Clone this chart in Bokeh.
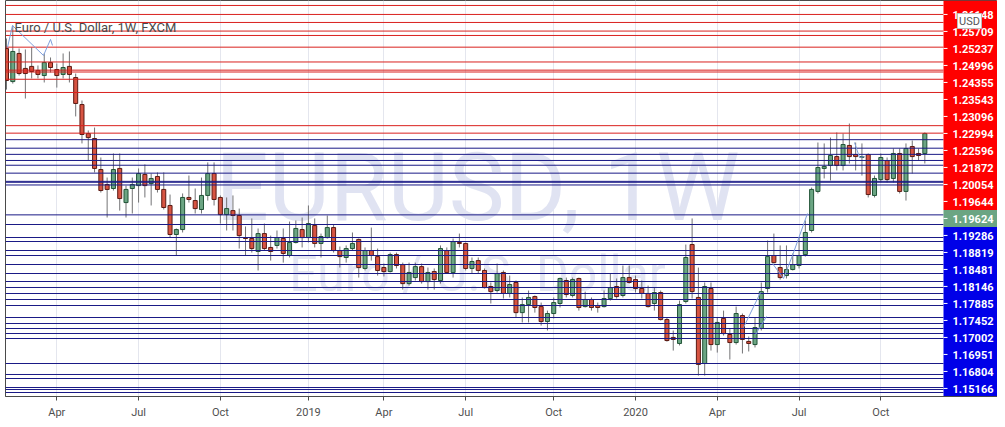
from bokeh.plotting import figure
from bokeh.models import Range1d, FixedTicker
from bokeh.core.properties import value
from bokeh.embed import file_html
from bokeh.resources import INLINE

# ---------------- data (EUR/USD weekly, FXCM, first bar = week of 2018-02-05) ----------------
opens = [1.2428, 1.2247, 1.2401, 1.2319, 1.2330, 1.2308, 1.2280, 1.2351, 1.2313, 1.2286,
         1.2330, 1.2269, 1.2121, 1.1962, 1.1935, 1.1765, 1.1683, 1.1661, 1.1771, 1.1584,
         1.1661, 1.1677, 1.1738, 1.1688, 1.1727, 1.1656, 1.1568, 1.1409, 1.1436, 1.1612,
         1.1595, 1.1546, 1.1623, 1.1743, 1.1612, 1.1518, 1.1540, 1.1513, 1.1392, 1.1387,
         1.1316, 1.1414, 1.1338, 1.1349, 1.1387, 1.1294, 1.1365, 1.1436, 1.1392, 1.1458,
         1.1360, 1.1392, 1.1447, 1.1321, 1.1283, 1.1332, 1.1382, 1.1223, 1.1321, 1.1288,
         1.1228, 1.1206, 1.1299, 1.1244, 1.1140, 1.1173, 1.1233, 1.1151, 1.1206, 1.1157,
         1.1321, 1.1201, 1.1365, 1.1360, 1.1223, 1.1266, 1.1212, 1.1124, 1.1102, 1.1201,
         1.1086, 1.1146, 1.0981, 1.1025, 1.1069, 1.1014, 1.0932, 1.0976, 1.1031, 1.1157,
         1.1075, 1.1168, 1.1014, 1.1053, 1.1020, 1.1014, 1.1058, 1.1124, 1.1075, 1.1173,
         1.1162, 1.1113, 1.1086, 1.1031, 1.1091, 1.0943, 1.0845, 1.0812, 1.1042, 1.1354,
         1.1064, 1.0702, 1.1113, 1.0806, 1.0949, 1.0861, 1.0817, 1.0965, 1.0823, 1.0806,
         1.0894, 1.1113, 1.1294, 1.1228, 1.1184, 1.1217, 1.1239, 1.1299, 1.1431, 1.1645,
         1.1771, 1.1787, 1.1836, 1.1787, 1.1897, 1.1847, 1.1831, 1.1847, 1.1623, 1.1710,
         1.1814, 1.1716, 1.1853, 1.1645, 1.1891, 1.1853, 1.1853]
highs = [1.2483, 1.2554, 1.2428, 1.2423, 1.2434, 1.2335, 1.2401, 1.2379, 1.2346, 1.2401,
         1.2412, 1.2291, 1.2143, 1.1979, 1.1995, 1.1831, 1.1721, 1.1853, 1.1853, 1.1677,
         1.1721, 1.1771, 1.1793, 1.1743, 1.1749, 1.1749, 1.1628, 1.1442, 1.1634, 1.1732,
         1.1661, 1.1721, 1.1804, 1.1804, 1.1623, 1.1612, 1.1623, 1.1551, 1.1453, 1.1497,
         1.1442, 1.1469, 1.1403, 1.1431, 1.1442, 1.1480, 1.1486, 1.1502, 1.1568, 1.1497,
         1.1414, 1.1513, 1.1464, 1.1343, 1.1349, 1.1420, 1.1387, 1.1338, 1.1447, 1.1332,
         1.1250, 1.1310, 1.1310, 1.1255, 1.1255, 1.1255, 1.1250, 1.1228, 1.1223, 1.1349,
         1.1338, 1.1387, 1.1414, 1.1365, 1.1283, 1.1283, 1.1223, 1.1146, 1.1250, 1.1212,
         1.1184, 1.1157, 1.1064, 1.1102, 1.1075, 1.1036, 1.0992, 1.1064, 1.1173, 1.1173,
         1.1173, 1.1173, 1.1096, 1.1064, 1.1036, 1.1102, 1.1195, 1.1168, 1.1239, 1.1239,
         1.1184, 1.1157, 1.1129, 1.1118, 1.1102, 1.0954, 1.0883, 1.1047, 1.1354, 1.1497,
         1.1228, 1.1146, 1.1146, 1.0954, 1.0992, 1.0894, 1.1014, 1.0976, 1.0850, 1.0954,
         1.1146, 1.1376, 1.1414, 1.1349, 1.1349, 1.1305, 1.1392, 1.1486, 1.1666, 1.1913,
         1.1908, 1.1940, 1.1968, 1.1962, 1.2017, 1.1913, 1.1908, 1.1853, 1.1732, 1.1853,
         1.1831, 1.1880, 1.1880, 1.1908, 1.1924, 1.1880, 1.1968]
lows = [1.2203, 1.2236, 1.2280, 1.2154, 1.2264, 1.2264, 1.2242, 1.2297, 1.2214, 1.2264,
        1.2242, 1.2056, 1.1908, 1.1814, 1.1749, 1.1639, 1.1502, 1.1650, 1.1540, 1.1502,
        1.1524, 1.1584, 1.1612, 1.1568, 1.1639, 1.1546, 1.1392, 1.1294, 1.1420, 1.1584,
        1.1524, 1.1524, 1.1595, 1.1568, 1.1469, 1.1431, 1.1431, 1.1332, 1.1294, 1.1310,
        1.1212, 1.1321, 1.1266, 1.1332, 1.1255, 1.1283, 1.1360, 1.1338, 1.1365, 1.1338,
        1.1283, 1.1387, 1.1310, 1.1228, 1.1255, 1.1321, 1.1173, 1.1212, 1.1266, 1.1184,
        1.1179, 1.1201, 1.1223, 1.1107, 1.1129, 1.1157, 1.1140, 1.1107, 1.1107, 1.1140,
        1.1195, 1.1173, 1.1338, 1.1212, 1.1195, 1.1195, 1.1113, 1.1031, 1.1091, 1.1058,
        1.1064, 1.0954, 1.0927, 1.0927, 1.0981, 1.0910, 1.0883, 1.0949, 1.1009, 1.1064,
        1.1064, 1.0992, 1.1009, 1.0992, 1.0981, 1.1009, 1.1047, 1.1058, 1.1064, 1.1140,
        1.1091, 1.1058, 1.1009, 1.0992, 1.0938, 1.0822, 1.0773, 1.0801, 1.1031, 1.1058,
        1.0636, 1.0636, 1.0773, 1.0762, 1.0855, 1.0724, 1.0806, 1.0757, 1.0768, 1.0790,
        1.0883, 1.1091, 1.1250, 1.1162, 1.1168, 1.1212, 1.1223, 1.1288, 1.1420, 1.1634,
        1.1716, 1.1705, 1.1760, 1.1760, 1.1798, 1.1760, 1.1732, 1.1612, 1.1612, 1.1694,
        1.1694, 1.1694, 1.1634, 1.1595, 1.1743, 1.1814, 1.1798]
closes = [1.2253, 1.2412, 1.2291, 1.2291, 1.2302, 1.2286, 1.2351, 1.2324, 1.2280, 1.2324,
          1.2286, 1.2127, 1.1957, 1.1940, 1.1771, 1.1650, 1.1656, 1.1765, 1.1606, 1.1656,
          1.1683, 1.1743, 1.1677, 1.1716, 1.1656, 1.1557, 1.1409, 1.1436, 1.1612, 1.1601,
          1.1551, 1.1623, 1.1743, 1.1601, 1.1518, 1.1551, 1.1513, 1.1403, 1.1387, 1.1332,
          1.1414, 1.1332, 1.1316, 1.1392, 1.1305, 1.1365, 1.1442, 1.1392, 1.1469, 1.1360,
          1.1398, 1.1447, 1.1321, 1.1288, 1.1332, 1.1360, 1.1228, 1.1321, 1.1294, 1.1212,
          1.1206, 1.1299, 1.1239, 1.1140, 1.1201, 1.1233, 1.1151, 1.1201, 1.1162, 1.1332,
          1.1201, 1.1370, 1.1360, 1.1223, 1.1261, 1.1212, 1.1118, 1.1096, 1.1195, 1.1086,
          1.1135, 1.0981, 1.1025, 1.1064, 1.1009, 1.0932, 1.0976, 1.1036, 1.1168, 1.1080,
          1.1162, 1.1009, 1.1053, 1.1009, 1.1009, 1.1058, 1.1118, 1.1069, 1.1173, 1.1146,
          1.1113, 1.1086, 1.1014, 1.1091, 1.0943, 1.0828, 1.0834, 1.1025, 1.1283, 1.1096,
          1.0697, 1.1124, 1.0806, 1.0927, 1.0866, 1.0817, 1.0976, 1.0834, 1.0812, 1.0899,
          1.1096, 1.1288, 1.1255, 1.1173, 1.1217, 1.1244, 1.1294, 1.1420, 1.1656, 1.1776,
          1.1782, 1.1842, 1.1787, 1.1902, 1.1836, 1.1836, 1.1836, 1.1628, 1.1716, 1.1831,
          1.1710, 1.1853, 1.1645, 1.1880, 1.1836, 1.1842, 1.1962]

current_price = 1.19624
current_label = "1.19624"

# horizontal price levels that carry a price label on the scale
labelled_levels = [1.26148, 1.25709, 1.25237, 1.24996, 1.24355, 1.23543, 1.23096, 1.22994,
                   1.22596, 1.21872, 1.20054, 1.19644, 1.19286, 1.18819, 1.18481, 1.18146,
                   1.17885, 1.17452, 1.17002, 1.16951, 1.16804, 1.15166]
level_texts = ["1.26148", "1.25709", "1.25237", "1.24996", "1.24355", "1.23543", "1.23096",
               "1.22994", "1.22596", "1.21872", "1.20054", "1.19644", "1.19286", "1.18819",
               "1.18481", "1.18146", "1.17885", "1.17452", "1.17002", "1.16951", "1.16804",
               "1.15166"]
# further horizontal levels whose labels are pushed off the scale
unlabelled_levels = [1.26640, 1.14638, 1.13925, 1.13706, 1.13213, 1.12939, 1.12446, 1.11953,
                     1.11514, 1.11186, 1.10857, 1.10528, 1.10199, 1.09542, 1.09213, 1.08939,
                     1.08665, 1.08391, 1.07021, 1.06419, 1.06199, 1.05706, 1.05597, 1.05432]

tick_bars = [8, 21, 34, 48, 60, 73, 87, 100, 113, 126, 139]
tick_labels = ["Apr", "Jul", "Oct", "2019", "Apr", "Jul", "Oct", "2020", "Apr", "Jul", "Oct"]

# trend-line drawings (bar index, price)
drawings_x = [[0.16, 0.95, 5.88, 7.00, 7.31],
              [117.17, 119.87],
              [119.08, 120.83],
              [121.78, 123.53, 124.96, 127.34],
              [134.82, 135.61, 136.41]]
drawings_y = [[1.2434, 1.2554, 1.2390, 1.2478, 1.2445],
              [1.0899, 1.1091],
              [1.0861, 1.0960],
              [1.1250, 1.1168, 1.1294, 1.1524],
              [1.1913, 1.1831, 1.1836]]

title_text = "Euro / U.S. Dollar, 1W, FXCM"
watermark_1 = "EURUSD, 1W"
watermark_2 = "Euro / U.S. Dollar"

# ---------------- layout (page pixels) ----------------
W, H = 997, 423
FRAME_L = 5
FRAME_H = 396
CHART_W = 938           # candle area width, price scale to its right
PX_PER_BAR = 6.29
X_LEFT = (FRAME_L - 6) / PX_PER_BAR
Y_TOP = 1.26912
PX_PER_PRICE = 1825.0
Y_BOT = Y_TOP - FRAME_H / PX_PER_PRICE
X_RIGHT = X_LEFT + (W - FRAME_L) / PX_PER_BAR
X_CHART = X_LEFT + CHART_W / PX_PER_BAR


def X(px):
    return X_LEFT + (px - FRAME_L) / PX_PER_BAR


def Y(py):
    return Y_TOP - py / PX_PER_PRICE


UP, DOWN = "#6ba583", "#d75442"
UP_B, DOWN_B = "#225437", "#5b1a13"
WICK = "#737375"
RED_LINE, BLUE_LINE = "#d9201e", "#1a1a86"
RED_LAB, BLUE_LAB, GREEN_LAB = "#ff0000", "#0000e8", "#6ba583"

p = figure(width=W, height=H, x_range=Range1d(X_LEFT, X_RIGHT), y_range=Range1d(Y_BOT, Y_TOP),
           output_backend="svg", toolbar_location=None, y_axis_location=None,
           min_border_left=FRAME_L, min_border_right=0, min_border_top=0, min_border_bottom=H - FRAME_H)
p.background_fill_color = "white"
p.border_fill_color = "white"
p.outline_line_color = "#4a4a4a"
p.ygrid.visible = False
p.xgrid.ticker = FixedTicker(ticks=tick_bars)
p.xgrid.grid_line_color = "#e4e6ee"
p.xaxis.ticker = FixedTicker(ticks=tick_bars)
p.xaxis.major_label_overrides = {float(t): l for t, l in zip(tick_bars, tick_labels)}
p.xaxis.major_label_text_font = "Roboto"
p.xaxis.major_label_text_font_size = "11px"
p.xaxis.major_label_text_color = "#4f4f4f"
p.xaxis.major_label_standoff = 5
p.xaxis.axis_line_color = "#4a4a4a"
p.xaxis.major_tick_line_color = "#4a4a4a"
p.xaxis.major_tick_in = 0
p.xaxis.major_tick_out = 4
p.xaxis.minor_tick_line_color = None

# watermark
p.text(x=[X(477)], y=[Y(187)], text=[watermark_1], text_font=value("Roboto"),
       text_font_size="94px", text_color="#e0e3f2", text_align="center",
       text_baseline="alphabetic")
p.text(x=[X(477)], y=[Y(273)], text=[watermark_2], text_font=value("Roboto"),
       text_font_size="50px", text_color="#e4e6f3", text_align="center",
       text_baseline="alphabetic")

# candles
idx = list(range(len(opens)))
up = [c >= o for o, c in zip(opens, closes)]
p.segment(x0=idx, y0=lows, x1=idx, y1=highs, line_color=WICK, line_width=1)
p.vbar(x=idx, width=0.64,
       top=[max(o, c) for o, c in zip(opens, closes)],
       bottom=[min(o, c) for o, c in zip(opens, closes)],
       fill_color=[UP if u else DOWN for u in up],
       line_color=[UP_B if u else DOWN_B for u in up], line_width=1)

# horizontal levels
levels = labelled_levels + unlabelled_levels
p.segment(x0=[X_LEFT] * len(levels), x1=[X_CHART] * len(levels), y0=levels, y1=levels,
          line_color=[RED_LINE if v > current_price else BLUE_LINE for v in levels],
          line_width=1)

# drawings
p.multi_line(xs=drawings_x, ys=drawings_y, line_color="#7f9fdc", line_width=1)

# title
p.text(x=[X(14)], y=[Y(26.5)], text=[title_text], text_font=value("Roboto"),
       text_font_size="13px", text_color="#4a4a4a", text_align="left",
       text_baseline="alphabetic")

# price scale labels (stacked so they do not overlap)
labs = [(v, t, RED_LAB if v > current_price else BLUE_LAB) for v, t in zip(labelled_levels, level_texts)]
labs.append((current_price, current_label, GREEN_LAB))
labs.sort(key=lambda r: -r[0])
LH = 17
prev = -1e9
centers = []
for v, t, c in labs:
    fy = (Y_TOP - v) * PX_PER_PRICE
    cy = max(fy, prev + LH)
    centers.append(cy)
    prev = cy

tops = [cy - LH / 2 for cy in centers]
tops[0] = 0  # scale is covered up to the top by the hidden level above
p.quad(left=[X_CHART] * len(labs), right=[X_RIGHT] * len(labs),
       top=[Y(t) for t in tops], bottom=[Y(cy + LH / 2) for cy in centers],
       fill_color=[c for _, _, c in labs], line_color=None)
p.segment(x0=[X_CHART] * len(labs), x1=[X(947)] * len(labs),
          y0=[Y(cy) for cy in centers], y1=[Y(cy) for cy in centers],
          line_color="white", line_width=1)
p.text(x=[X(952)] * len(labs), y=[Y(cy + 0.5) for cy in centers], text=[t for _, t, _ in labs],
       text_font=value("Roboto"), text_font_size="11px", text_font_style="bold",
       text_color="white", text_align="left", text_baseline="middle")

# currency badge
p.quad(left=[X(957)], right=[X(981)], top=[Y(13)], bottom=[Y(28)],
       fill_color="white", line_color="#bdbdbd")
p.text(x=[X(969)], y=[Y(21)], text=["USD"], text_font=value("Roboto"),
       text_font_size="11px", text_color="#555555", text_align="center",
       text_baseline="middle")

open("out.html", "w").write(file_html(p, INLINE))
